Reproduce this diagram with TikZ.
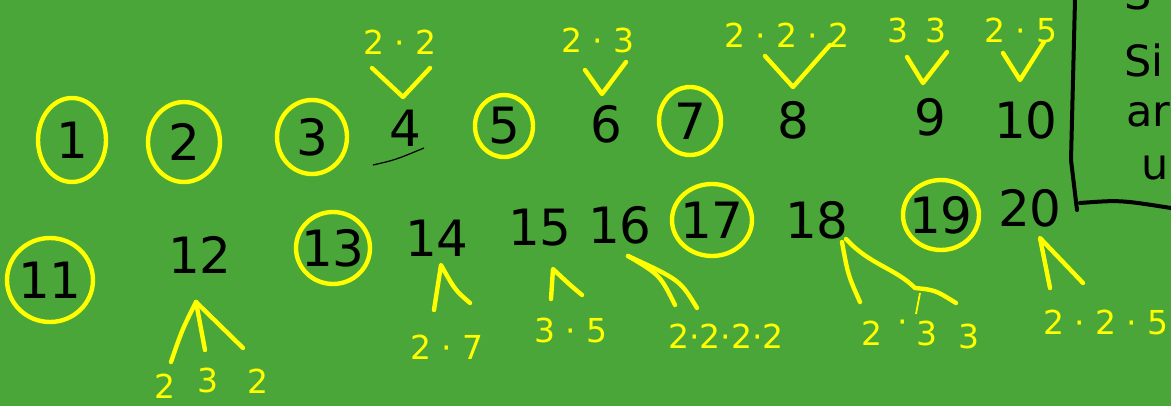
\documentclass[tikz,border=0pt]{standalone}
\usepackage{fontspec}
\setmainfont{DejaVu Sans}
\definecolor{board}{RGB}{74,166,57}
\definecolor{chalk}{RGB}{255,255,0}
\tikzset{
  num/.style={text=black,font=\fontsize{50}{50}\selectfont,inner sep=0pt},
  fac/.style={text=chalk,font=\fontsize{33}{33}\selectfont,inner sep=0pt},
  ring/.style={draw=chalk,line width=4.4pt},
  branch/.style={draw=chalk,line width=4.4pt,line cap=round,line join=round},
  pen/.style={draw=black,line width=4pt,line cap=round},
  boxtext/.style={text=black,font=\fontsize{43}{43}\selectfont,inner sep=0pt,anchor=west}
}
\begin{document}
\begin{tikzpicture}[x=1pt,y=-1pt]
\fill[board] (0,0) rectangle (1171,406);
\clip (0,0) rectangle (1171,406);
% row 1
\node[num] (n1) at (72,140) {1};
\node[num] (n2) at (184,142) {2};
\node[num] (n3) at (312,137) {3};
\node[num] (n4) at (405,128) {4};
\node[num] (n5) at (504,126) {5};
\node[num] (n6) at (606,124) {6};
\node[num] (n7) at (690,121) {7};
\node[num] (n8) at (793,120) {8};
\node[num] (n9) at (930,117) {9};
\node[num] (n10) at (1026,120) {10};
% row 2
\node[num] (n11) at (50,280) {11};
\node[num] (n12) at (200,255) {12};
\node[num] (n13) at (333,248) {13};
\node[num] (n14) at (437,238) {14};
\node[num] (n15) at (540,228) {15};
\node[num] (n16) at (620,225) {16};
\node[num] (n17) at (712,220) {17};
\node[num] (n18) at (817,220) {18};
\node[num] (n19) at (941,215) {19};
\node[num] (n20) at (1030,208) {20};
% prime rings
\draw[ring] (n1) ellipse (34 and 42);
\draw[ring] (n2) ellipse (36 and 40);
\draw[ring] (n3) ellipse (35 and 37);
\draw[ring] (n5) ellipse (29 and 31);
\draw[ring] (n7) ellipse (31 and 34);
\draw[ring] (n11) ellipse (43 and 42);
\draw[ring] (n13) ellipse (37 and 36);
\draw[ring] (n17) ellipse (40 and 36);
\draw[ring] (n19) ellipse (38 and 35);
% stroke under 4
\coordinate (u4a) at (373,165);
\coordinate (u4b) at (424,148);
\draw[black,line width=1.2pt] (u4a) .. controls (395,160) .. (u4b);
% factorisations above
\node[fac] (f4) at (400,42) {2 · 2};
\node[fac] (f6) at (598,40) {2 · 3};
\node[fac] (f8) at (787,35) {2 · 2 · 2};
\node[fac] (f9) at (917,30) {3\,\,\,3};
\node[fac] (f10) at (1021,30) {2 · 5};
\coordinate (v4) at (403,97);
\draw[branch] (372,68) -- (v4) -- (430,68);
\coordinate (v6) at (602,94);
\draw[branch] (585,70) -- (v6) -- (626,62);
\coordinate (v8) at (793,87);
\draw[branch] (765,56) -- (v8) -- (830,45);
\coordinate (v9) at (923,83);
\draw[branch] (907,57) -- (v9) -- (947,52);
\coordinate (v10) at (1020,80);
\draw[branch] (1003,53) -- (v10) -- (1044,42);
% factorisations below
\coordinate (a12) at (196,302);
\node[fac] (g12a) at (165,386) {2};
\node[fac] (g12b) at (208,380) {3};
\node[fac] (g12c) at (258,381) {2};
\draw[branch] (a12) .. controls (182,330) .. (171,362);
\draw[branch] (a12) -- (205,350);
\draw[branch] (a12) -- (243,348);
\coordinate (a14) at (441,265);
\node[fac] (g14) at (447,347) {2 · 7};
\draw[branch] (434,310) -- (a14) .. controls (455,290) .. (470,303);
\coordinate (a15) at (553,269);
\node[fac] (g15) at (571,330) {3 · 5};
\draw[branch] (551,299) -- (a15) .. controls (570,285) .. (582,295);
\coordinate (a16) at (628,256);
\node[fac] (g16) at (726,336) {2·2·2·2};
\draw[branch] (a16) .. controls (660,275) .. (675,305);
\draw[branch] (a16) .. controls (680,280) .. (697,308);
\coordinate (a18a) at (842,242);
\coordinate (a18b) at (846,239);
\node[fac] (g18a) at (872,333) {2};
\node[fac] (g18d) at (903,327) {·};
\node[fac] (g18b) at (927,333) {3};
\node[fac] (g18c) at (969,336) {3};
\draw[branch] (a18a) .. controls (848,275) .. (860,302);
\draw[branch] (a18b) .. controls (870,265) and (895,268) .. (915,288) .. controls (935,290) .. (956,303);
\draw[chalk,line width=1.8pt] (920,293) -- (916,314);
\coordinate (a20) at (1040,238);
\node[fac] (g20) at (1106,322) {2 · 2 · 5};
\draw[branch] (1050,288) -- (a20) -- (1083,283);
% box at right
\coordinate (bx1) at (1075,0);
\coordinate (bx2) at (1077,210);
\coordinate (bx3) at (1080,203);
\coordinate (bx4) at (1171,208);
\draw[pen] (bx1) -- (1071,160) -- (bx2);
\draw[pen] (bx3) .. controls (1120,200) .. (bx4);
\node[boxtext] (b0) at (1124,-6) {S};
\node[boxtext] (b1) at (1124,60) {Si};
\node[boxtext] (b2) at (1126,115) {ar};
\node[boxtext] (b3) at (1141,168) {u};
\end{tikzpicture}
\end{document}
